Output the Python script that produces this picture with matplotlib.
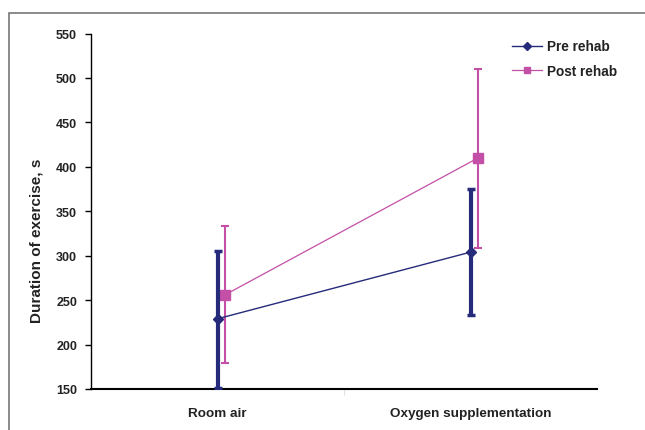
import matplotlib
matplotlib.use("Agg")
import matplotlib.pyplot as plt
from matplotlib.patches import Rectangle

categories = ["Room air", "Oxygen supplementation"]
pre_mean = [229, 304]
pre_low = [151, 233]
pre_high = [305, 375]
post_mean = [256, 410]
post_low = [179, 309]
post_high = [333, 510]
yticks = [150, 200, 250, 300, 350, 400, 450, 500, 550]

plt.rcParams['font.family'] = ['Liberation Sans', 'DejaVu Sans']

fig = plt.figure(figsize=(6.45, 4.31), dpi=100)
ax = fig.add_axes([91 / 645, 1 - 390 / 431, (597 - 91) / 645, (390 - 34.5) / 431])

navy = "#262a7a"
pink = "#c44fa6"

xpre = [0.5, 1.5]
xpost = [0.53, 1.53]

ax.errorbar(xpre, pre_mean,
            yerr=[[m - l for m, l in zip(pre_mean, pre_low)], [h - m for m, h in zip(pre_mean, pre_high)]],
            color=navy, lw=1.0, elinewidth=3, capsize=3, capthick=2.5,
            marker="D", markersize=5.5, label="Pre rehab", zorder=3)
ax.errorbar(xpost, post_mean,
            yerr=[[m - l for m, l in zip(post_mean, post_low)], [h - m for m, h in zip(post_mean, post_high)]],
            color=pink, lw=0.9, elinewidth=1.5, capsize=3, capthick=1.5,
            marker="s", markersize=7, label="Post rehab", zorder=2)

ax.set_xlim(0, 2)
ax.set_ylim(150, 550)
ax.set_yticks(yticks)
ax.set_yticklabels([str(t) for t in yticks], fontsize=9, fontweight="bold", color="#222222")
ax.set_xticks(xpre)
ax.set_xticklabels(categories, fontsize=9.7, fontweight="bold", color="#222222")
ax.tick_params(axis="x", length=0, pad=13)
ax.tick_params(axis="y", length=4, width=1, pad=6)
ax.set_xticks([1], minor=True)
ax.tick_params(axis="x", which="minor", length=4, color="#dddddd")
for s in ["top", "right"]:
    ax.spines[s].set_visible(False)
ax.spines["left"].set_linewidth(1)
ax.spines["bottom"].set_linewidth(1.5)
ax.set_ylabel("Duration of exercise, s", fontsize=11, fontweight="bold", color="#222222")
ax.yaxis.set_label_coords(-0.093, 0.42)

handles, labels = ax.get_legend_handles_labels()
handles = [h[0] for h in handles]
leg = ax.legend(handles, labels, loc="upper left", bbox_to_anchor=(0.813, 1.01),
                frameon=False, prop={"weight": "bold", "size": 9.8},
                handlelength=2.2, handletextpad=0.4, labelspacing=0.75, markerscale=0.7,
                borderaxespad=0.3)
for t in leg.get_texts():
    t.set_color("#222222")

fig.patches.append(Rectangle((9 / 645, -0.1), 1.2, 1 - 14 / 431 + 0.1, transform=fig.transFigure,
                             fill=False, edgecolor="#777777", lw=1.2))

fig.savefig("out.png", dpi=100)
